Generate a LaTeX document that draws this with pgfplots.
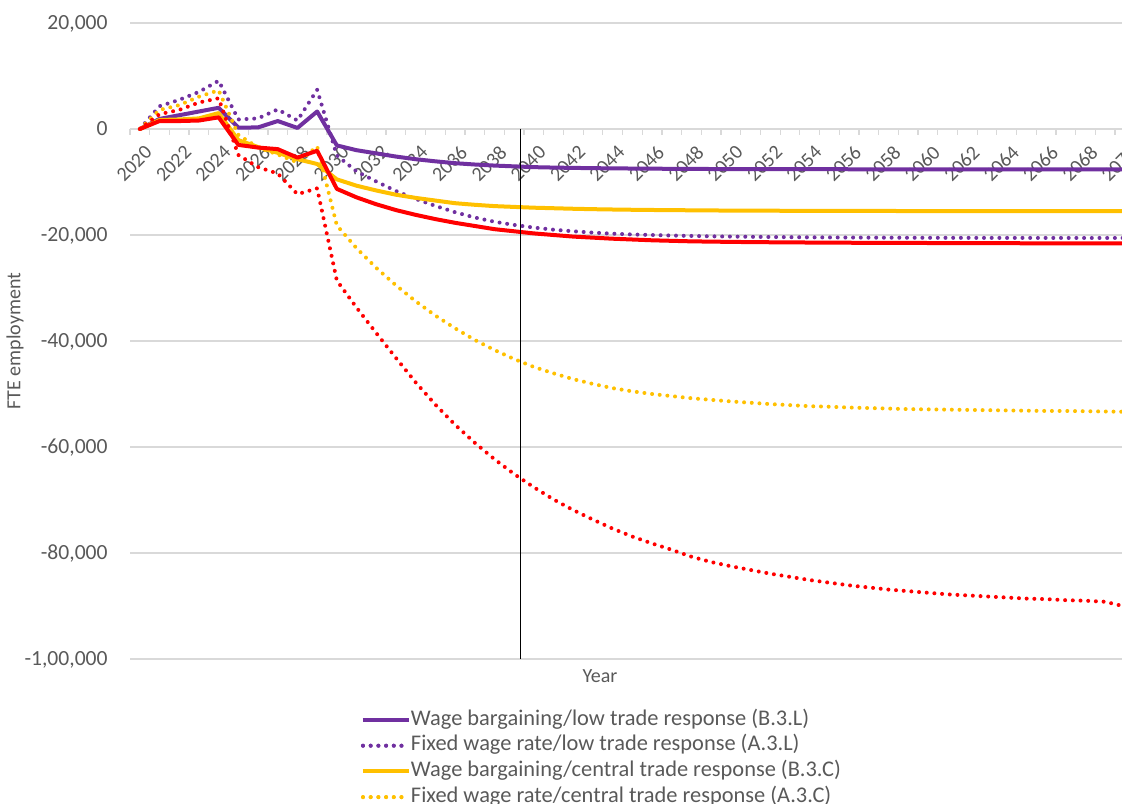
\documentclass[border=0pt]{standalone}
\usepackage{fontspec}
\setmainfont{Carlito}
\usepackage{pgfplots}
\usepackage{pgfplotstable}
\pgfplotsset{compat=1.18}

\definecolor{lowtrade}{HTML}{7030A0}
\definecolor{centraltrade}{HTML}{FFC000}
\definecolor{hightrade}{HTML}{FF0000}
\definecolor{gridgray}{HTML}{D9D9D9}
\definecolor{textgray}{HTML}{595959}

% FTE employment change by scenario
% BL = B.3.L, AL = A.3.L, BC = B.3.C, AC = A.3.C, BH = B.3.H, AH = A.3.H
\pgfplotstableread{
year  BL     AL     BC     AC     BH     AH
2020  0      0      0      0      0      0
2021  1900   4300   1700   3600   1500   2800
2022  2600   5500   1800   4500   1500   3600
2023  3300   7000   2000   6100   1600   5000
2024  4000   9100   3000   7300   2200   5800
2025  250    1800   -2100  -1100  -3000  -4900
2026  300    2000   -3400  -3500  -3500  -7200
2027  1500   3700   -4500  -4800  -3800  -8400
2028  200    1600   -5700  -6300  -5400  -12300
2029  3300   7400   -6600  -3300  -4100  -11200
2030  -3100  -5000  -9500  -18200 -11300 -28600
2031  -4000  -8000  -10700 -22500 -12900 -33700
2032  -4600  -9900  -11600 -26200 -14200 -38500
2033  -5200  -11700 -12400 -29500 -15300 -43200
2034  -5700  -13200 -13000 -32500 -16200 -47800
2035  -6100  -14500 -13500 -35200 -17000 -52000
2036  -6450  -15700 -14000 -37600 -17700 -55800
2037  -6700  -16700 -14300 -39800 -18300 -59200
2038  -6900  -17500 -14550 -41700 -18900 -62300
2039  -7050  -18100 -14700 -43400 -19300 -65100
2040  -7200  -18600 -14850 -44900 -19700 -67600
2041  -7280  -19000 -14950 -46100 -20000 -69900
2042  -7340  -19300 -15050 -47200 -20300 -71900
2043  -7390  -19550 -15130 -48100 -20500 -73700
2044  -7430  -19750 -15190 -48900 -20700 -75400
2045  -7460  -19900 -15240 -49500 -20850 -76900
2046  -7490  -20000 -15280 -50000 -21000 -78200
2047  -7510  -20100 -15310 -50400 -21100 -79400
2048  -7530  -20180 -15340 -50800 -21200 -80700
2049  -7550  -20250 -15370 -51100 -21250 -81700
2050  -7560  -20300 -15390 -51400 -21300 -82500
2051  -7570  -20340 -15410 -51650 -21340 -83200
2052  -7575  -20380 -15420 -51900 -21370 -83900
2053  -7580  -20410 -15430 -52100 -21400 -84500
2054  -7585  -20440 -15440 -52300 -21420 -85100
2055  -7590  -20460 -15450 -52400 -21440 -85600
2056  -7595  -20480 -15460 -52550 -21460 -86100
2057  -7600  -20500 -15465 -52650 -21480 -86500
2058  -7600  -20510 -15470 -52750 -21490 -86900
2059  -7605  -20520 -15475 -52850 -21500 -87200
2060  -7605  -20530 -15480 -52900 -21510 -87500
2061  -7610  -20535 -15485 -52950 -21520 -87800
2062  -7610  -20540 -15490 -53000 -21530 -88000
2063  -7612  -20545 -15490 -53050 -21540 -88200
2064  -7614  -20550 -15495 -53100 -21550 -88400
2065  -7615  -20550 -15495 -53150 -21560 -88600
2066  -7616  -20555 -15500 -53200 -21570 -88700
2067  -7617  -20555 -15500 -53200 -21580 -88900
2068  -7618  -20560 -15500 -53250 -21590 -89000
2069  -7619  -20560 -15500 -53300 -21595 -89200
2070  -7620  -20560 -15500 -53350 -21600 -90100
}\employment

\tikzset{
  solidseries/.style={line width=2pt, line join=round},
  dotseries/.style={line width=2pt, line cap=round, dash pattern=on 0pt off 3.85pt},
}

\begin{document}
\begin{tikzpicture}
\begin{axis}[
  name=ax,
  scale only axis,
  width=502.35pt, height=318pt,
  xmin=2019.5, xmax=2070.5,
  ymin=-100000, ymax=20000,
  scaled x ticks=false,
  scaled y ticks=false,
  axis x line*=middle,
  axis y line*=left,
  x axis line style={draw=gridgray, line width=0.6pt},
  y axis line style={draw=none},
  xtick={2020,2022,...,2070},
  xticklabels={2020,2022,2024,2026,2028,2030,2032,2034,2036,2038,2040,2042,2044,2046,2048,2050,2052,2054,2056,2058,2060,2062,2064,2066,2068,2070},
  minor xtick={2019.5,2020.5,...,2070.5},
  major x tick style={draw=none},
  minor x tick style={draw=gridgray, line width=0.6pt},
  major tick length=0pt,
  minor tick length=3pt,
  xtick align=outside,
  xticklabel style={font=\fontsize{10}{12}\selectfont, text=textgray,
    inner sep=0pt, xshift=2pt, yshift=-7.5pt, rotate=45, anchor=north east},
  ytick={-100000,-80000,...,20000},
  yticklabels={{-1,00,000},{-80,000},{-60,000},{-40,000},{-20,000},0,{20,000}},
  ytick style={draw=none},
  yticklabel style={font=\fontsize{10.8}{13}\selectfont, text=textgray,
    inner sep=0pt, text height=6.8pt, text depth=0pt, anchor=east, xshift=-11pt},
  ymajorgrids,
  grid style={draw=gridgray, line width=0.6pt},
  xlabel={Year},
  xlabel style={at={(axis description cs:0.4678,-0.0267)}, anchor=center,
    font=\fontsize{10}{12}\selectfont, text=textgray},
  ylabel={FTE employment},
  ylabel style={at={(axis description cs:-0.1145,0.5)}, anchor=center,
    font=\fontsize{10}{12}\selectfont, text=textgray},
  legend cell align=left,
  legend style={
    at={(axis description cs:0.2299,-0.0802)}, anchor=north west,
    draw=none, fill=none, inner sep=0pt, outer sep=0pt,
    row sep=2.85pt,
    nodes={inner sep=0pt, text height=7.6pt, text depth=2.4pt},
    font=\fontsize{11.2}{13}\selectfont, text=textgray,
  },
  legend image code/.code={
    \draw[#1] (0pt,0pt) -- (20pt,0pt);
    \path (0pt,0pt) -- (23pt,0pt);
  },
]
\coordinate (pll) at (rel axis cs:0,0);

\addplot[lowtrade, solidseries] table[x=year, y=BL]{\employment};
\addlegendentry{Wage bargaining/low trade response (B.3.L)}
\addplot[lowtrade, dotseries] table[x=year, y=AL]{\employment};
\addlegendentry{Fixed wage rate/low trade response (A.3.L)}
\addplot[centraltrade, solidseries] table[x=year, y=BC]{\employment};
\addlegendentry{Wage bargaining/central trade response (B.3.C)}
\addplot[centraltrade, dotseries] table[x=year, y=AC]{\employment};
\addlegendentry{Fixed wage rate/central trade response (A.3.C)}
\addplot[hightrade, solidseries, forget plot] table[x=year, y=BH]{\employment};
\addplot[hightrade, dotseries, forget plot] table[x=year, y=AH]{\employment};

% marker line
\addplot[black, line width=0.5pt, forget plot] coordinates {(2039.3,0) (2039.3,-100000)};
\end{axis}
\pgfresetboundingbox
\path[use as bounding box] ([xshift=-65pt,yshift=-72pt]pll) rectangle ([xshift=496pt,yshift=329.5pt]pll);
\end{tikzpicture}
\end{document}
